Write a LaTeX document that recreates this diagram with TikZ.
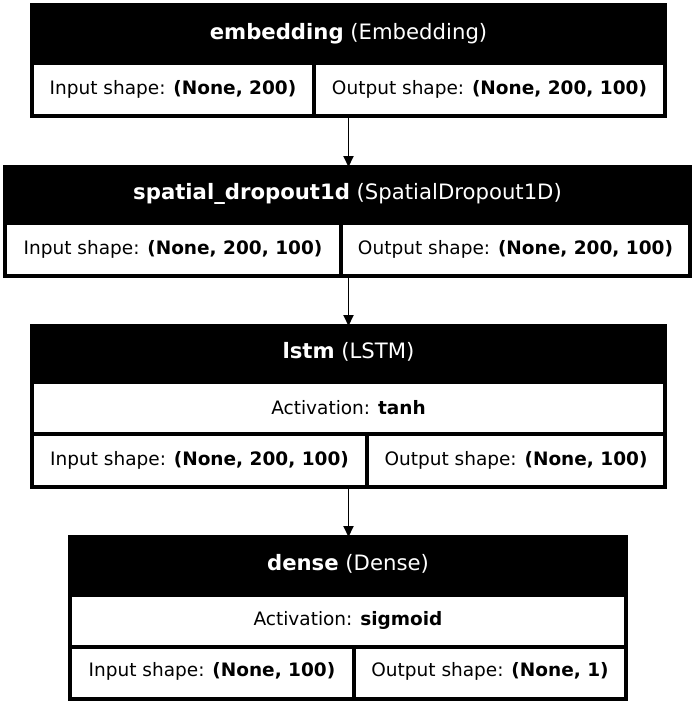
\documentclass[tikz,border=0pt]{standalone}
\usepackage{fontspec}
\setmainfont{DejaVu Sans}
\usetikzlibrary{arrows.meta}
\begin{document}
\begin{tikzpicture}[x=1pt,y=-1pt,
  frame/.style={draw, line width=3.2pt, rectangle, inner sep=0pt, outer sep=0pt},
  hdr/.style={fill=black},
  htext/.style={text=white, anchor=base, inner sep=0pt, font=\fontsize{21.2}{25}\selectfont},
  ctext/.style={anchor=base, inner sep=0pt, font=\fontsize{18.5}{22}\selectfont},
  sep/.style={line width=3.2pt},
  conn/.style={line width=1.9pt, -{Triangle[length=11pt,width=10pt]}}
]
\useasboundingbox[fill=white] (0,0) rectangle (696,707);

% block 1: embedding
\fill[hdr] (32,5) rectangle (665,65);
\node[frame, minimum width=633pt, minimum height=111pt] (b1) at (348.5,60.5) {};
\draw[sep] (314,65) -- (314,116);
\node[htext] (b1h) at (348.5,39.5) {\textbf{embedding} (Embedding)};
\node[ctext] (b1i) at (173,94.5) {Input shape: \textbf{(None, 200)}};
\node[ctext] (b1o) at (489.5,94.5) {Output shape: \textbf{(None, 200, 100)}};

% block 2: spatial_dropout1d
\fill[hdr] (5,167) rectangle (690,225);
\node[frame, minimum width=685pt, minimum height=109pt] (b2) at (347.5,221.5) {};
\draw[sep] (341,225) -- (341,276);
\node[htext] (b2h) at (347.5,199.5) {\textbf{spatial\_dropout1d} (SpatialDropout1D)};
\node[ctext] (b2i) at (173,254.5) {Input shape: \textbf{(None, 200, 100)}};
\node[ctext] (b2o) at (515.5,254.5) {Output shape: \textbf{(None, 200, 100)}};

% block 3: lstm
\fill[hdr] (32,326) rectangle (665,384);
\node[frame, minimum width=633pt, minimum height=161pt] (b3) at (348.5,406.5) {};
\draw[sep] (32,434) -- (665,434);
\draw[sep] (367,434) -- (367,487);
\node[htext] (b3h) at (348.5,358.5) {\textbf{lstm} (LSTM)};
\node[ctext] (b3a) at (348.5,414) {Activation: \textbf{tanh}};
\node[ctext] (b3i) at (199.5,465.5) {Input shape: \textbf{(None, 200, 100)}};
\node[ctext] (b3o) at (516,465.5) {Output shape: \textbf{(None, 100)}};

% block 4: dense
\fill[hdr] (70,537) rectangle (626,597);
\node[frame, minimum width=556pt, minimum height=162pt] (b4) at (348,618) {};
\draw[sep] (70,647) -- (626,647);
\draw[sep] (354,647) -- (354,699);
\node[htext] (b4h) at (348,570.5) {\textbf{dense} (Dense)};
\node[ctext] (b4a) at (348,625) {Activation: \textbf{sigmoid}};
\node[ctext] (b4i) at (212,676) {Input shape: \textbf{(None, 100)}};
\node[ctext] (b4o) at (490,676) {Output shape: \textbf{(None, 1)}};

% connectors
\draw[conn] (b1.south) -- (b1.south |- b2.north);
\draw[conn] (b2.south -| b1.south) -- (b1.south |- b3.north);
\draw[conn] (b3.south) -- (b3.south |- b4.north);
\end{tikzpicture}
\end{document}
